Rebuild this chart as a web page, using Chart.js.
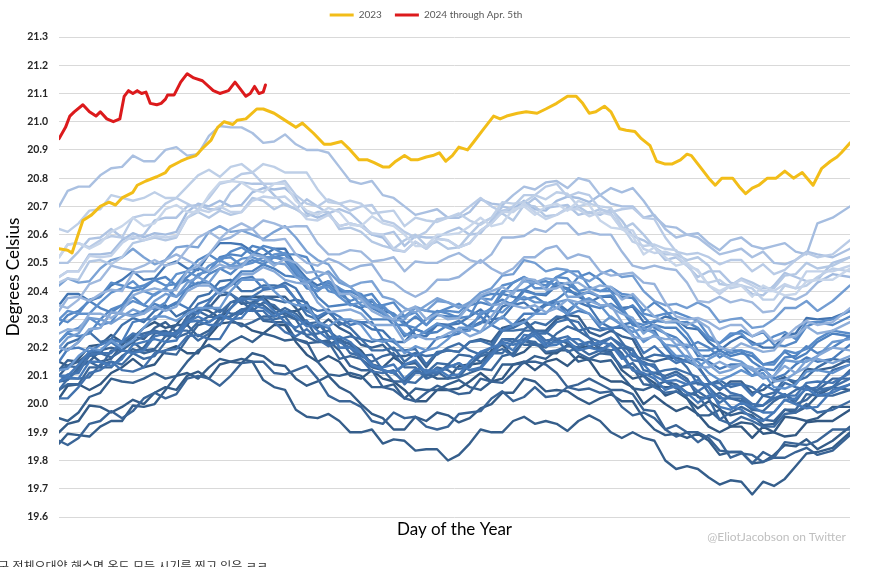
<!DOCTYPE html>
<html lang="ko">
<head>
<meta charset="UTF-8">
<title>Sea surface temperature by day of the year</title>
<script src="https://cdn.jsdelivr.net/npm/chart.js@4"></script>
<style>
  html, body { margin: 0; padding: 0; background: #fff; overflow: hidden; }
  body { width: 885px; height: 567px; position: relative; }
  #chart { position: absolute; left: 0; top: 0; }
  .credit { position: absolute; right: 39px; top: 529px; font: 12px Lato, sans-serif; color: #bfbfbf; }
  .caption { position: absolute; left: -13px; top: 560px; font: 12px "Noto Sans CJK KR", sans-serif;
             color: #333; white-space: nowrap; line-height: 1; }
</style>
</head>
<body>
<canvas id="chart" width="885" height="567"></canvas>
<div class="credit">@EliotJacobson on Twitter</div>
<div class="caption">지구 전체오대양 해수면 온도 모든 시기를 찍고 있음 ㅋㅋ</div>

<script>
// 2023 and 2024 (day of year -> degrees C)
const days2023 = [1,5,7,10,12,16,20,24,27,30,35,37,41,46,50,52,57,60,64,67,
  71,74,77,81,83,87,92,95,100,104,110,113,118,123,126,131,135,139,143,146,
  150,153,156,160,163,166,170,173,176,179,182,185,189,192,196,201,204,207,212,216,
  221,225,230,235,239,242,245,248,252,255,259,262,266,269,273,276,280,283,287,290,
  292,297,300,303,306,311,314,317,320,323,327,331,335,339,343,348,352,356,359,361,365];
const sst2023 = [20.55,20.545,20.535,20.605,20.65,20.67,20.70,20.715,20.705,20.73,
  20.75,20.775,20.79,20.805,20.82,20.84,20.86,20.87,20.88,20.905,
  20.935,20.98,21.0,20.99,21.005,21.01,21.045,21.045,21.03,21.01,
  20.98,20.995,20.96,20.92,20.92,20.93,20.90,20.865,20.865,20.855,
  20.84,20.84,20.86,20.88,20.865,20.865,20.875,20.88,20.89,20.86,
  20.88,20.91,20.90,20.93,20.97,21.02,21.01,21.02,21.03,21.035,
  21.03,21.045,21.065,21.09,21.09,21.065,21.03,21.035,21.055,21.035,
  20.975,20.97,20.965,20.94,20.915,20.86,20.85,20.85,20.865,20.885,
  20.88,20.83,20.80,20.775,20.80,20.80,20.77,20.745,20.765,20.775,
  20.80,20.80,20.825,20.80,20.82,20.775,20.835,20.86,20.875,20.89,
  20.925];

const days2024 = [1,4,6,8,12,15,18,20,23,26,29,31,33,35,37,39,41,43,46,48,
  50,51,54,57,60,63,67,72,75,79,82,85,87,89,91,93,95,96];
const sst2024 = [20.94,20.98,21.02,21.035,21.06,21.035,21.02,21.035,21.01,21.0,
  21.01,21.09,21.11,21.10,21.11,21.10,21.105,21.065,21.06,21.065,
  21.08,21.095,21.095,21.14,21.17,21.155,21.145,21.11,21.10,21.11,
  21.14,21.11,21.09,21.10,21.125,21.10,21.105,21.13];

// earlier years, sampled every ~5 days
const blueDays = [1,5,10,15,20,25,30,35,40,45,50,55,60,65,70,75,80,85,90,95,100,105,110,115,
  120,125,130,135,140,145,150,155,160,165,170,175,180,185,190,195,200,205,210,215,220,225,
  230,235,240,245,250,255,260,265,270,275,280,285,290,295,300,305,310,315,320,325,330,335,
  340,345,350,357,365];

const sst1982 = [20.02,20.065,20.07,20.05,20.07,20.11,20.13,20.16,20.13,20.14,20.19,20.205,20.18,20.18,20.24,20.285,20.29,20.285,20.26,20.25,20.28,20.28,20.22,20.175,20.15,20.17,20.15,20.10,20.09,20.12,20.09,20.08,20.05,20.01,20.01,20.05,20.05,20.055,20.08,20.11,20.08,20.09,20.14,20.15,20.12,20.15,20.16,20.135,20.17,20.155,20.10,20.08,20.08,20.06,20.00,20.03,20.00,19.975,19.99,19.965,19.92,19.90,19.92,19.92,19.88,19.92,19.90,19.885,19.89,19.935,19.94,19.94,19.98];
const sst1983 = [20.15,20.135,20.16,20.205,20.21,20.245,20.22,20.235,20.27,20.29,20.27,20.28,20.33,20.34,20.33,20.305,20.34,20.38,20.38,20.38,20.34,20.325,20.33,20.345,20.30,20.24,20.22,20.215,20.19,20.14,20.13,20.165,20.14,20.145,20.11,20.09,20.09,20.135,20.14,20.145,20.19,20.21,20.17,20.185,20.22,20.18,20.18,20.21,20.20,20.205,20.19,20.185,20.12,20.09,20.10,20.075,20.03,20.045,20.02,19.985,20.01,19.985,19.92,19.935,19.93,19.895,19.90,19.955,19.95,19.94,19.95,19.99,19.99];
const sst1984 = [19.90,19.93,19.94,19.995,19.99,19.97,19.99,20.015,20.00,20.04,20.06,20.05,20.10,20.115,20.09,20.14,20.15,20.145,20.18,20.17,20.14,20.135,20.09,20.065,20.08,20.10,20.06,20.04,20.00,19.965,19.95,19.91,19.91,19.955,19.94,19.97,19.96,19.935,19.95,19.985,20.00,20.04,20.04,20.09,20.08,20.045,20.05,20.045,20.02,20.00,20.02,20.035,20.01,20.01,19.95,19.91,19.89,19.895,19.88,19.895,19.87,19.82,19.83,19.83,19.79,19.795,19.82,19.855,19.85,19.875,19.84,19.87,19.92];
const sst1985 = [19.86,19.895,19.89,19.885,19.92,19.94,19.94,19.995,19.99,20.00,20.05,20.10,20.11,20.09,20.13,20.16,20.15,20.16,20.15,20.085,20.06,20.05,19.98,19.955,19.95,19.965,19.94,19.90,19.90,19.91,19.86,19.875,19.87,19.835,19.84,19.84,19.80,19.82,19.86,19.91,19.90,19.90,19.94,19.955,19.93,19.94,19.93,19.905,19.94,19.96,19.94,19.90,19.88,19.90,19.88,19.87,19.80,19.77,19.78,19.77,19.74,19.715,19.73,19.725,19.68,19.725,19.71,19.735,19.78,19.825,19.83,19.845,19.90];
const sst1986 = [19.95,19.94,19.97,20.025,20.04,20.09,20.08,20.075,20.09,20.11,20.09,20.10,20.15,20.19,20.21,20.185,20.22,20.24,20.22,20.25,20.24,20.225,20.23,20.22,20.15,20.105,20.10,20.11,20.10,20.06,20.06,20.07,20.02,20.055,20.05,20.05,20.07,20.085,20.06,20.05,20.08,20.14,20.14,20.145,20.17,20.16,20.19,20.19,20.15,20.16,20.15,20.155,20.10,20.055,20.05,20.065,20.06,20.06,20.02,19.96,19.96,19.98,19.96,19.97,19.96,19.925,19.93,19.98,19.97,19.99,20.03,20.06,20.05];
const sst1987 = [20.10,20.135,20.15,20.18,20.15,20.16,20.21,20.24,20.23,20.27,20.29,20.255,20.28,20.33,20.34,20.385,20.39,20.355,20.36,20.38,20.38,20.38,20.34,20.285,20.27,20.30,20.27,20.25,20.21,20.20,20.21,20.17,20.17,20.18,20.13,20.18,20.19,20.185,20.22,20.23,20.22,20.27,20.28,20.30,20.26,20.26,20.30,20.315,20.31,20.255,20.24,20.26,20.24,20.23,20.16,20.15,20.16,20.165,20.15,20.135,20.08,20.05,20.08,20.08,20.04,20.05,20.08,20.095,20.07,20.125,20.12,20.13,20.16];
const sst1988 = [20.12,20.155,20.15,20.15,20.19,20.20,20.19,20.22,20.19,20.195,20.24,20.28,20.28,20.24,20.26,20.305,20.31,20.335,20.34,20.295,20.29,20.29,20.23,20.215,20.22,20.225,20.19,20.135,20.12,20.12,20.06,20.05,20.02,20.01,20.04,20.065,20.05,20.035,20.04,20.09,20.08,20.075,20.11,20.15,20.15,20.14,20.11,20.06,20.07,20.09,20.07,20.05,20.05,20.035,19.98,19.975,19.91,19.885,19.90,19.90,19.88,19.835,19.83,19.83,19.79,19.83,19.81,19.81,19.83,19.845,19.82,19.835,19.89];
const sst1989 = [19.87,19.855,19.88,19.93,19.94,19.975,19.95,19.975,20.02,20.04,20.02,20.035,20.09,20.10,20.09,20.065,20.10,20.145,20.15,20.15,20.11,20.105,20.12,20.135,20.09,20.03,20.01,20.01,19.99,19.94,19.93,19.97,19.95,19.955,19.92,19.91,19.92,19.965,19.97,19.975,20.02,20.045,20.01,20.025,20.06,20.025,20.03,20.06,20.05,20.055,20.04,20.045,19.99,19.96,19.97,19.95,19.91,19.925,19.90,19.865,19.89,19.87,19.81,19.825,19.82,19.795,19.81,19.865,19.86,19.855,19.87,19.91,19.91];
const sst1990 = [20.05,20.07,20.07,20.13,20.13,20.13,20.17,20.195,20.18,20.19,20.18,20.175,20.23,20.28,20.29,20.315,20.30,20.275,20.29,20.31,20.31,20.325,20.30,20.24,20.22,20.22,20.16,20.17,20.16,20.13,20.12,20.08,20.08,20.12,20.10,20.13,20.12,20.095,20.11,20.125,20.12,20.17,20.18,20.225,20.21,20.20,20.23,20.215,20.18,20.16,20.18,20.175,20.13,20.13,20.07,20.065,20.08,20.07,20.04,20.03,19.98,19.945,19.97,19.99,19.97,19.945,19.94,19.98,19.98,20.035,20.03,20.03,20.05];
const sst1991 = [20.08,20.085,20.13,20.15,20.13,20.19,20.19,20.185,20.20,20.25,20.26,20.235,20.25,20.29,20.31,20.305,20.36,20.365,20.33,20.36,20.35,20.315,20.30,20.295,20.23,20.21,20.23,20.21,20.17,20.15,20.17,20.18,20.13,20.13,20.09,20.105,20.14,20.175,20.17,20.15,20.17,20.23,20.23,20.21,20.21,20.21,20.25,20.275,20.26,20.235,20.19,20.215,20.18,20.12,20.10,20.11,20.10,20.115,20.09,20.025,20.02,20.04,20.02,20.01,19.98,19.975,20.01,20.035,20.00,20.015,20.05,20.09,20.09];
const sst1992 = [20.12,20.135,20.13,20.185,20.18,20.165,20.19,20.24,20.25,20.26,20.25,20.25,20.31,20.33,20.31,20.335,20.32,20.32,20.36,20.35,20.32,20.34,20.32,20.285,20.29,20.275,20.20,20.20,20.18,20.14,20.12,20.11,20.14,20.15,20.10,20.115,20.09,20.095,20.14,20.17,20.18,20.195,20.17,20.225,20.22,20.185,20.19,20.205,20.20,20.175,20.19,20.18,20.13,20.145,20.10,20.06,20.04,20.045,20.03,20.045,20.02,19.945,19.93,19.955,19.94,19.92,19.92,19.965,19.97,20.00,19.97,19.98,20.01];
const sst1993 = [20.05,20.09,20.09,20.095,20.14,20.15,20.14,20.18,20.16,20.17,20.22,20.26,20.26,20.225,20.25,20.30,20.31,20.335,20.34,20.30,20.30,20.31,20.26,20.245,20.25,20.26,20.23,20.18,20.17,20.175,20.12,20.11,20.08,20.075,20.11,20.145,20.14,20.125,20.13,20.185,20.18,20.18,20.22,20.26,20.26,20.255,20.23,20.185,20.20,20.22,20.20,20.19,20.20,20.19,20.14,20.14,20.08,20.055,20.07,20.075,20.06,20.02,20.02,20.02,19.98,20.03,20.02,20.025,20.05,20.065,20.04,20.06,20.12];
const sst1994 = [20.10,20.09,20.12,20.17,20.18,20.23,20.22,20.22,20.24,20.26,20.24,20.245,20.29,20.33,20.35,20.325,20.36,20.375,20.35,20.38,20.37,20.36,20.37,20.36,20.29,20.24,20.23,20.24,20.23,20.19,20.19,20.20,20.15,20.18,20.17,20.175,20.20,20.215,20.19,20.175,20.20,20.26,20.26,20.265,20.29,20.28,20.31,20.305,20.26,20.27,20.26,20.27,20.22,20.17,20.16,20.175,20.17,20.17,20.13,20.07,20.07,20.085,20.06,20.07,20.06,20.03,20.04,20.09,20.08,20.095,20.13,20.16,20.15];
const sst1995 = [20.18,20.215,20.23,20.255,20.22,20.23,20.28,20.305,20.29,20.33,20.35,20.31,20.33,20.38,20.39,20.435,20.44,20.40,20.40,20.42,20.42,20.415,20.37,20.315,20.30,20.325,20.29,20.27,20.23,20.22,20.23,20.19,20.19,20.195,20.14,20.185,20.19,20.185,20.22,20.225,20.21,20.26,20.27,20.29,20.25,20.25,20.29,20.30,20.29,20.235,20.22,20.235,20.21,20.195,20.12,20.11,20.12,20.125,20.11,20.095,20.04,20.005,20.03,20.03,19.99,19.995,20.02,20.035,20.01,20.06,20.05,20.06,20.09];
const sst1996 = [20.02,20.02,20.06,20.11,20.12,20.15,20.12,20.115,20.13,20.18,20.19,20.195,20.24,20.245,20.23,20.23,20.29,20.33,20.33,20.33,20.29,20.255,20.24,20.265,20.23,20.205,20.22,20.20,20.16,20.115,20.11,20.12,20.07,20.11,20.11,20.11,20.13,20.145,20.12,20.13,20.18,20.23,20.22,20.23,20.26,20.225,20.23,20.24,20.21,20.22,20.21,20.235,20.20,20.155,20.15,20.13,20.09,20.105,20.08,20.045,20.07,20.075,20.04,20.03,20.00,19.995,20.03,20.075,20.06,20.05,20.06,20.12,20.14];
const sst1997 = [20.08,20.105,20.11,20.175,20.18,20.18,20.22,20.25,20.24,20.255,20.25,20.245,20.30,20.355,20.37,20.40,20.39,20.365,20.38,20.405,20.41,20.43,20.41,20.35,20.33,20.335,20.28,20.295,20.29,20.265,20.26,20.22,20.22,20.265,20.25,20.285,20.28,20.255,20.27,20.29,20.29,20.345,20.36,20.405,20.39,20.385,20.42,20.41,20.38,20.36,20.38,20.38,20.34,20.345,20.29,20.29,20.31,20.30,20.27,20.265,20.22,20.19,20.22,20.24,20.22,20.20,20.20,20.245,20.25,20.305,20.30,20.305,20.33];
const sst1998 = [20.35,20.39,20.39,20.365,20.38,20.42,20.44,20.47,20.44,20.445,20.49,20.505,20.48,20.475,20.53,20.57,20.57,20.565,20.54,20.525,20.55,20.55,20.49,20.445,20.42,20.435,20.41,20.355,20.34,20.365,20.33,20.32,20.29,20.245,20.24,20.28,20.28,20.285,20.31,20.335,20.30,20.305,20.35,20.36,20.33,20.355,20.36,20.33,20.36,20.345,20.29,20.27,20.27,20.245,20.18,20.205,20.17,20.145,20.16,20.13,20.08,20.055,20.07,20.07,20.03,20.07,20.05,20.03,20.03,20.075,20.08,20.075,20.11];
const sst1999 = [20.10,20.10,20.14,20.185,20.19,20.22,20.19,20.18,20.19,20.24,20.25,20.25,20.29,20.295,20.28,20.28,20.34,20.375,20.37,20.37,20.33,20.29,20.27,20.295,20.26,20.23,20.24,20.22,20.18,20.135,20.13,20.14,20.09,20.125,20.12,20.115,20.13,20.145,20.12,20.125,20.17,20.22,20.21,20.22,20.25,20.215,20.22,20.225,20.19,20.20,20.19,20.21,20.17,20.12,20.11,20.09,20.05,20.065,20.04,20.005,20.03,20.03,19.99,19.98,19.95,19.94,19.97,20.015,20.00,19.985,19.99,20.05,20.07];
const sst2000 = [20.08,20.095,20.09,20.15,20.15,20.135,20.16,20.21,20.22,20.23,20.22,20.225,20.29,20.31,20.29,20.315,20.30,20.305,20.35,20.34,20.31,20.33,20.31,20.275,20.28,20.27,20.20,20.20,20.18,20.14,20.12,20.11,20.14,20.155,20.11,20.125,20.10,20.105,20.15,20.185,20.20,20.215,20.19,20.245,20.24,20.205,20.21,20.23,20.23,20.205,20.22,20.21,20.16,20.18,20.14,20.10,20.08,20.085,20.07,20.085,20.06,19.99,19.98,20.005,19.99,19.97,19.97,20.015,20.02,20.055,20.03,20.04,20.07];
const sst2001 = [20.15,20.195,20.20,20.185,20.21,20.225,20.22,20.29,20.30,20.30,20.34,20.36,20.34,20.32,20.36,20.41,20.42,20.445,20.45,20.41,20.41,20.42,20.37,20.33,20.31,20.33,20.31,20.28,20.29,20.29,20.23,20.22,20.19,20.17,20.19,20.235,20.24,20.25,20.28,20.31,20.28,20.26,20.28,20.32,20.32,20.35,20.36,20.315,20.33,20.32,20.27,20.265,20.28,20.29,20.26,20.26,20.20,20.155,20.15,20.16,20.15,20.125,20.14,20.14,20.10,20.125,20.09,20.105,20.14,20.165,20.15,20.16,20.21];
const sst2002 = [20.20,20.19,20.22,20.265,20.27,20.325,20.32,20.315,20.33,20.355,20.34,20.355,20.41,20.43,20.43,20.40,20.43,20.47,20.47,20.495,20.48,20.455,20.45,20.445,20.38,20.345,20.35,20.355,20.34,20.30,20.30,20.30,20.24,20.265,20.25,20.255,20.28,20.295,20.27,20.285,20.34,20.39,20.38,20.37,20.38,20.355,20.37,20.40,20.39,20.395,20.38,20.385,20.33,20.28,20.27,20.28,20.27,20.27,20.23,20.17,20.17,20.19,20.17,20.18,20.17,20.14,20.15,20.185,20.16,20.18,20.22,20.25,20.24];
const sst2003 = [20.28,20.315,20.33,20.365,20.34,20.325,20.35,20.40,20.41,20.44,20.45,20.42,20.45,20.48,20.47,20.52,20.53,20.525,20.56,20.55,20.52,20.51,20.46,20.41,20.40,20.43,20.40,20.40,20.38,20.34,20.32,20.28,20.28,20.31,20.28,20.315,20.31,20.31,20.35,20.36,20.35,20.37,20.35,20.40,20.39,20.39,20.43,20.425,20.40,20.35,20.34,20.355,20.33,20.35,20.31,20.27,20.25,20.235,20.20,20.22,20.20,20.165,20.19,20.19,20.15,20.125,20.12,20.165,20.17,20.205,20.18,20.20,20.24];
const sst2004 = [20.22,20.25,20.24,20.25,20.30,20.335,20.35,20.38,20.35,20.335,20.36,20.42,20.44,20.42,20.46,20.48,20.46,20.495,20.51,20.495,20.52,20.53,20.48,20.435,20.41,20.42,20.39,20.365,20.38,20.39,20.34,20.32,20.28,20.27,20.30,20.33,20.32,20.305,20.31,20.38,20.39,20.39,20.43,20.45,20.43,20.435,20.42,20.405,20.45,20.465,20.44,20.40,20.38,20.375,20.33,20.36,20.33,20.29,20.29,20.27,20.23,20.215,20.24,20.26,20.24,20.255,20.21,20.205,20.22,20.275,20.29,20.28,20.31];
const sst2005 = [20.30,20.29,20.32,20.37,20.38,20.43,20.42,20.41,20.42,20.44,20.42,20.425,20.47,20.51,20.53,20.505,20.54,20.555,20.53,20.56,20.55,20.53,20.53,20.52,20.45,20.40,20.39,20.40,20.39,20.35,20.35,20.36,20.31,20.34,20.33,20.325,20.34,20.355,20.33,20.315,20.34,20.40,20.40,20.405,20.43,20.42,20.45,20.445,20.40,20.41,20.40,20.40,20.34,20.29,20.28,20.295,20.29,20.29,20.25,20.19,20.19,20.205,20.18,20.19,20.18,20.14,20.14,20.19,20.18,20.195,20.23,20.26,20.25];
const sst2006 = [20.22,20.255,20.27,20.305,20.28,20.29,20.34,20.365,20.35,20.39,20.41,20.38,20.41,20.46,20.47,20.515,20.52,20.49,20.50,20.52,20.52,20.515,20.47,20.415,20.40,20.435,20.41,20.39,20.35,20.34,20.35,20.31,20.31,20.325,20.28,20.325,20.33,20.325,20.36,20.375,20.37,20.42,20.43,20.45,20.41,20.41,20.45,20.47,20.47,20.415,20.40,20.415,20.39,20.385,20.32,20.31,20.32,20.325,20.31,20.295,20.24,20.215,20.25,20.25,20.21,20.215,20.24,20.255,20.23,20.29,20.29,20.30,20.33];
const sst2007 = [20.30,20.33,20.32,20.32,20.36,20.395,20.41,20.435,20.40,20.385,20.41,20.46,20.47,20.45,20.49,20.51,20.49,20.515,20.52,20.505,20.53,20.535,20.48,20.435,20.41,20.415,20.38,20.35,20.36,20.37,20.32,20.295,20.25,20.235,20.26,20.285,20.27,20.255,20.26,20.325,20.33,20.325,20.36,20.38,20.36,20.36,20.34,20.32,20.36,20.375,20.35,20.305,20.28,20.27,20.22,20.245,20.21,20.17,20.17,20.15,20.11,20.085,20.10,20.12,20.10,20.11,20.06,20.055,20.07,20.115,20.12,20.11,20.14];
const sst2008 = [20.12,20.125,20.17,20.20,20.19,20.225,20.20,20.225,20.27,20.31,20.31,20.295,20.32,20.34,20.34,20.34,20.40,20.44,20.44,20.44,20.40,20.365,20.35,20.35,20.29,20.275,20.30,20.30,20.28,20.23,20.22,20.23,20.18,20.205,20.19,20.20,20.23,20.27,20.27,20.255,20.28,20.31,20.28,20.29,20.32,20.32,20.36,20.37,20.34,20.32,20.28,20.31,20.28,20.255,20.27,20.25,20.21,20.205,20.16,20.13,20.16,20.18,20.16,20.15,20.12,20.09,20.10,20.155,20.15,20.15,20.17,20.22,20.23];
const sst2009 = [20.20,20.235,20.25,20.305,20.30,20.285,20.31,20.335,20.32,20.365,20.39,20.38,20.43,20.45,20.43,20.48,20.49,20.49,20.53,20.525,20.50,20.495,20.45,20.43,20.45,20.47,20.43,20.415,20.38,20.345,20.33,20.295,20.30,20.345,20.33,20.365,20.36,20.34,20.36,20.395,20.41,20.455,20.46,20.51,20.50,20.47,20.48,20.475,20.45,20.435,20.46,20.475,20.45,20.455,20.40,20.365,20.35,20.355,20.34,20.36,20.34,20.29,20.30,20.305,20.27,20.275,20.30,20.34,20.34,20.365,20.33,20.365,20.42];
const sst2010 = [20.42,20.445,20.43,20.435,20.48,20.51,20.52,20.55,20.52,20.495,20.51,20.555,20.56,20.555,20.61,20.63,20.61,20.615,20.60,20.585,20.61,20.63,20.59,20.54,20.51,20.495,20.44,20.415,20.43,20.435,20.38,20.37,20.34,20.325,20.35,20.375,20.36,20.345,20.35,20.38,20.35,20.355,20.40,20.435,20.43,20.445,20.44,20.38,20.38,20.40,20.38,20.34,20.32,20.305,20.25,20.28,20.25,20.21,20.21,20.185,20.14,20.11,20.12,20.14,20.12,20.13,20.08,20.085,20.11,20.155,20.16,20.145,20.17];
const sst2011 = [20.20,20.19,20.22,20.265,20.27,20.325,20.32,20.31,20.32,20.345,20.33,20.345,20.40,20.42,20.42,20.39,20.42,20.46,20.46,20.485,20.47,20.44,20.43,20.425,20.36,20.325,20.33,20.335,20.32,20.28,20.28,20.28,20.22,20.245,20.23,20.23,20.25,20.265,20.24,20.255,20.31,20.36,20.35,20.34,20.35,20.325,20.34,20.37,20.36,20.365,20.35,20.35,20.29,20.24,20.23,20.24,20.23,20.23,20.19,20.13,20.13,20.15,20.13,20.14,20.13,20.095,20.10,20.135,20.11,20.13,20.17,20.20,20.19];
const sst2012 = [20.25,20.265,20.26,20.32,20.32,20.305,20.33,20.385,20.40,20.41,20.40,20.405,20.47,20.49,20.47,20.495,20.48,20.485,20.53,20.52,20.49,20.515,20.50,20.465,20.47,20.46,20.39,20.39,20.37,20.33,20.31,20.30,20.33,20.345,20.30,20.32,20.30,20.305,20.35,20.385,20.40,20.415,20.39,20.445,20.44,20.405,20.41,20.43,20.43,20.405,20.42,20.415,20.37,20.39,20.35,20.31,20.29,20.295,20.28,20.295,20.27,20.20,20.19,20.215,20.20,20.185,20.19,20.235,20.24,20.275,20.25,20.26,20.29];
const sst2013 = [20.33,20.375,20.38,20.365,20.39,20.405,20.40,20.465,20.47,20.47,20.51,20.53,20.51,20.49,20.53,20.58,20.59,20.615,20.62,20.58,20.58,20.585,20.53,20.50,20.49,20.515,20.50,20.475,20.49,20.495,20.44,20.43,20.40,20.38,20.40,20.44,20.44,20.45,20.48,20.51,20.48,20.46,20.48,20.52,20.52,20.55,20.56,20.515,20.53,20.52,20.47,20.455,20.46,20.465,20.43,20.425,20.36,20.31,20.30,20.305,20.29,20.265,20.28,20.28,20.24,20.26,20.22,20.235,20.27,20.295,20.28,20.29,20.34];
const sst2014 = [20.35,20.34,20.37,20.425,20.44,20.49,20.48,20.475,20.49,20.51,20.49,20.50,20.55,20.59,20.61,20.585,20.62,20.64,20.62,20.65,20.64,20.625,20.63,20.63,20.57,20.53,20.53,20.545,20.54,20.505,20.51,20.52,20.47,20.505,20.50,20.50,20.52,20.535,20.51,20.50,20.53,20.59,20.59,20.595,20.62,20.61,20.64,20.64,20.60,20.61,20.60,20.60,20.54,20.49,20.48,20.49,20.48,20.475,20.43,20.365,20.36,20.38,20.36,20.37,20.36,20.325,20.33,20.38,20.37,20.39,20.43,20.46,20.45];
const sst2015 = [20.45,20.47,20.47,20.53,20.53,20.535,20.58,20.605,20.59,20.605,20.60,20.61,20.68,20.71,20.70,20.72,20.70,20.705,20.75,20.765,20.76,20.765,20.73,20.675,20.66,20.675,20.63,20.64,20.63,20.60,20.59,20.545,20.54,20.575,20.55,20.585,20.58,20.555,20.57,20.615,20.64,20.685,20.69,20.72,20.69,20.685,20.72,20.735,20.73,20.715,20.74,20.765,20.75,20.765,20.72,20.665,20.63,20.625,20.60,20.605,20.57,20.545,20.58,20.59,20.56,20.55,20.56,20.57,20.54,20.53,20.64,20.66,20.70];
const sst2016 = [20.70,20.755,20.77,20.77,20.81,20.835,20.84,20.88,20.86,20.86,20.90,20.91,20.88,20.885,20.95,20.985,20.98,20.98,20.96,20.925,20.93,20.955,20.92,20.90,20.90,20.89,20.84,20.79,20.78,20.79,20.74,20.73,20.70,20.67,20.68,20.69,20.66,20.66,20.68,20.725,20.71,20.705,20.74,20.77,20.76,20.785,20.79,20.765,20.80,20.79,20.74,20.71,20.70,20.70,20.66,20.67,20.62,20.59,20.60,20.59,20.56,20.53,20.54,20.55,20.52,20.54,20.50,20.495,20.51,20.54,20.53,20.52,20.55];
const sst2017 = [20.50,20.50,20.54,20.585,20.59,20.62,20.59,20.585,20.60,20.65,20.66,20.66,20.70,20.705,20.69,20.69,20.75,20.785,20.78,20.78,20.74,20.705,20.69,20.725,20.70,20.675,20.69,20.675,20.64,20.60,20.60,20.61,20.56,20.595,20.59,20.59,20.61,20.625,20.60,20.605,20.65,20.70,20.69,20.70,20.73,20.695,20.70,20.705,20.67,20.68,20.67,20.69,20.65,20.595,20.58,20.555,20.51,20.52,20.49,20.45,20.47,20.47,20.43,20.42,20.39,20.385,20.42,20.465,20.45,20.435,20.44,20.50,20.52];
const sst2018 = [20.43,20.445,20.44,20.505,20.51,20.495,20.52,20.57,20.58,20.59,20.58,20.59,20.66,20.68,20.66,20.685,20.67,20.68,20.73,20.72,20.69,20.71,20.69,20.665,20.68,20.68,20.62,20.625,20.61,20.575,20.56,20.55,20.58,20.60,20.56,20.575,20.55,20.555,20.60,20.64,20.66,20.675,20.65,20.705,20.70,20.665,20.67,20.695,20.70,20.675,20.69,20.675,20.62,20.64,20.60,20.555,20.53,20.53,20.51,20.52,20.49,20.425,20.42,20.445,20.43,20.41,20.41,20.455,20.46,20.50,20.48,20.49,20.52];
const sst2019 = [20.52,20.565,20.57,20.555,20.58,20.595,20.59,20.66,20.67,20.67,20.71,20.73,20.71,20.69,20.73,20.78,20.79,20.815,20.82,20.78,20.78,20.79,20.74,20.71,20.70,20.725,20.71,20.685,20.70,20.705,20.65,20.64,20.61,20.59,20.61,20.655,20.66,20.67,20.70,20.73,20.70,20.68,20.70,20.74,20.74,20.77,20.78,20.735,20.75,20.74,20.69,20.68,20.69,20.695,20.66,20.655,20.59,20.54,20.53,20.535,20.52,20.495,20.51,20.51,20.47,20.495,20.46,20.475,20.51,20.535,20.52,20.53,20.58];
const sst2020 = [20.62,20.61,20.64,20.685,20.69,20.74,20.73,20.72,20.73,20.75,20.73,20.73,20.77,20.81,20.83,20.805,20.84,20.85,20.82,20.85,20.84,20.82,20.82,20.82,20.76,20.715,20.71,20.72,20.71,20.675,20.68,20.685,20.63,20.66,20.65,20.645,20.66,20.675,20.65,20.635,20.66,20.715,20.71,20.715,20.74,20.725,20.75,20.745,20.70,20.71,20.70,20.695,20.63,20.575,20.56,20.565,20.55,20.545,20.50,20.435,20.43,20.44,20.41,20.42,20.41,20.37,20.37,20.42,20.41,20.42,20.45,20.48,20.47];
const sst2021 = [20.45,20.47,20.47,20.525,20.52,20.525,20.57,20.595,20.58,20.595,20.59,20.595,20.66,20.69,20.68,20.70,20.68,20.68,20.72,20.735,20.73,20.735,20.70,20.655,20.65,20.67,20.63,20.64,20.63,20.605,20.60,20.55,20.54,20.575,20.55,20.585,20.58,20.555,20.57,20.615,20.64,20.68,20.68,20.71,20.68,20.655,20.67,20.69,20.69,20.665,20.68,20.67,20.62,20.615,20.55,20.535,20.54,20.525,20.49,20.475,20.42,20.39,20.42,20.44,20.42,20.40,20.40,20.425,20.41,20.47,20.47,20.47,20.49];
const sst2022 = [20.52,20.565,20.57,20.55,20.57,20.61,20.63,20.66,20.63,20.64,20.69,20.705,20.68,20.68,20.74,20.785,20.79,20.785,20.76,20.75,20.78,20.78,20.72,20.685,20.67,20.695,20.68,20.635,20.63,20.665,20.64,20.63,20.60,20.56,20.56,20.60,20.60,20.605,20.63,20.66,20.63,20.64,20.69,20.70,20.67,20.70,20.71,20.685,20.72,20.705,20.65,20.625,20.62,20.595,20.53,20.555,20.52,20.49,20.50,20.47,20.42,20.40,20.42,20.42,20.38,20.42,20.40,20.385,20.39,20.435,20.44,20.44,20.48];

const blueYears = [];
for (let y = 1982; y <= 2022; y++) blueYears.push(y);
const blueSeries = [sst1982, sst1983, sst1984, sst1985, sst1986, sst1987, sst1988, sst1989, sst1990,
  sst1991, sst1992, sst1993, sst1994, sst1995, sst1996, sst1997, sst1998, sst1999, sst2000,
  sst2001, sst2002, sst2003, sst2004, sst2005, sst2006, sst2007, sst2008, sst2009, sst2010,
  sst2011, sst2012, sst2013, sst2014, sst2015, sst2016, sst2017, sst2018, sst2019, sst2020,
  sst2021, sst2022];

const GOLD = '#f2bd18';
const RED = '#dc1a1c';

// dark steel blue for the oldest years -> pale blue for the most recent
const SHADE_STOPS = [
  [0.00, [50, 88, 130]],
  [0.45, [70, 122, 185]],
  [0.62, [95, 145, 205]],
  [0.80, [160, 185, 222]],
  [1.00, [200, 214, 234]]
];
function blueShade(t) {
  let i = 0;
  while (i < SHADE_STOPS.length - 2 && t > SHADE_STOPS[i + 1][0]) i++;
  const [t0, c0] = SHADE_STOPS[i];
  const [t1, c1] = SHADE_STOPS[i + 1];
  const f = (t - t0) / (t1 - t0);
  const c = c0.map((v, k) => Math.round(v + (c1[k] - v) * f));
  return `rgb(${c[0]},${c[1]},${c[2]})`;
}

const toPoints = (days, vals) => days.map((d, i) => ({ x: d, y: vals[i] }));

const datasets = [
  { label: '2023', data: toPoints(days2023, sst2023),
    borderColor: GOLD, backgroundColor: GOLD, borderWidth: 3 },
  { label: '2024 through Apr. 5th', data: toPoints(days2024, sst2024),
    borderColor: RED, backgroundColor: RED, borderWidth: 3 }
];
// newest first so the recent (lighter) years sit above the older ones
for (let k = blueYears.length - 1; k >= 0; k--) {
  const col = blueShade(k / (blueYears.length - 1));
  datasets.push({ label: String(blueYears[k]), data: toPoints(blueDays, blueSeries[k]),
    borderColor: col, backgroundColor: col, borderWidth: 2.4 });
}

// move the legend row up a few px without changing the plot area
const legendNudge = {
  id: 'legendNudge',
  afterLayout(chart) { chart.legend.top -= 7; chart.legend.bottom -= 7; }
};

new Chart(document.getElementById('chart'), {
  type: 'line',
  data: { datasets },
  plugins: [legendNudge],
  options: {
    responsive: false,
    animation: false,
    layout: { padding: { left: 2, right: 35, top: 4, bottom: 0 } },
    elements: {
      point: { radius: 0 },
      line: { tension: 0, borderJoinStyle: 'round', borderCapStyle: 'round' }
    },
    plugins: {
      tooltip: { enabled: false },
      legend: {
        position: 'top',
        labels: {
          font: { family: 'Lato', size: 10 },
          color: '#595959',
          boxWidth: 24,
          boxHeight: 3,
          padding: 13,
          filter: item => item.datasetIndex < 2,
          generateLabels(chart) {
            return Chart.defaults.plugins.legend.labels.generateLabels(chart)
              .map(it => Object.assign(it, { lineWidth: 0 }));
          }
        }
      }
    },
    scales: {
      x: {
        type: 'linear',
        min: 1,
        max: 365,
        grid: { display: false },
        border: { display: false },
        ticks: { display: false },
        title: { display: true, text: 'Day of the Year', color: '#000',
                 font: { family: 'Lato', size: 17 }, padding: { top: 0, bottom: 27 } },
        afterFit(scale) { scale.height = 50; }
      },
      y: {
        min: 19.6,
        max: 21.3,
        grid: { color: '#d9d9d9', lineWidth: 1, drawTicks: false },
        border: { display: false },
        ticks: {
          stepSize: 0.1,
          padding: 11,
          color: '#262626',
          font: { family: 'Lato', size: 10.5, weight: 'bold' },
          callback: v => Number(v).toFixed(1)
        },
        title: { display: true, text: 'Degrees Celsius', color: '#000',
                 font: { family: 'Lato', size: 17 }, padding: { top: 1, bottom: 0 } },
        afterFit(scale) { scale.width = 57; }
      }
    }
  }
});
</script>
</body>
</html>
